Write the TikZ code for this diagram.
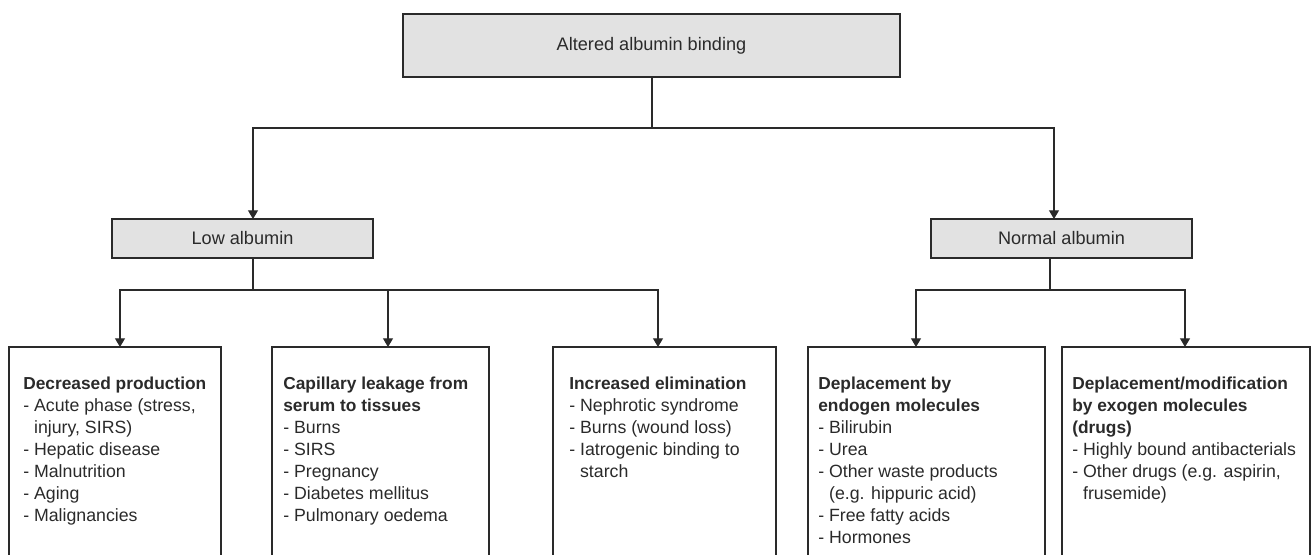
\documentclass[tikz,border=0pt]{standalone}
\usepackage{fontspec}
\setmainfont{Liberation Sans}
\usetikzlibrary{arrows.meta}
\definecolor{boxgray}{HTML}{E2E2E2}
\definecolor{ink}{HTML}{2A2A2A}
\tikzset{
  gbox/.style={draw=ink, fill=boxgray, line width=0.8pt, inner sep=0pt, outer sep=0pt, anchor=north west, text=ink, font=\fontsize{13.6}{16}\selectfont},
  wbox/.style={draw=ink, line width=0.8pt, inner sep=0pt, outer sep=0pt, anchor=north west},
  txt/.style={inner sep=0pt, anchor=north west, align=left, text=ink, font=\fontsize{13.3}{16.5}\selectfont},
  conn/.style={draw=ink, line width=0.8pt},
  arr/.style={conn, -{Triangle[width=7.5pt,length=6.5pt]}},
}
\newcommand{\hd}[1]{{\fontsize{13}{16.5}\selectfont\bfseries #1}}
\newcommand{\ind}{\hphantom{-~}}
\begin{document}
\begin{tikzpicture}[x=0.75pt,y=-0.75pt]
\useasboundingbox (0,0) rectangle (1311,555);
\clip (0,0) rectangle (1311,555);
% grey boxes
\node[gbox, minimum width=372.75pt, minimum height=47.25pt] (top) at (403,14) {Altered albumin binding};
\node[gbox, minimum width=195.75pt, minimum height=29.25pt] (low) at (112,219) {Low albumin};
\node[gbox, minimum width=195.75pt, minimum height=29.25pt] (norm) at (931,219) {Normal albumin};
% white boxes
\node[wbox, minimum width=159pt, minimum height=170pt] (b1) at (9,347) {};
\node[wbox, minimum width=162.75pt, minimum height=170pt] (b2) at (272,347) {};
\node[wbox, minimum width=167.25pt, minimum height=170pt] (b3) at (553,347) {};
\node[wbox, minimum width=177.75pt, minimum height=170pt] (b4) at (808,347) {};
\node[wbox, minimum width=186pt, minimum height=170pt] (b5) at (1062,347) {};
% texts
\node[txt] (t1) at (23,377) {\hd{Decreased production}\\- Acute phase (stress,\\\ind injury, SIRS)\\- Hepatic disease\\- Malnutrition\\- Aging\\- Malignancies};
\node[txt] (t2) at (283,377) {\hd{Capillary leakage from}\\\hd{serum to tissues}\\- Burns\\- SIRS\\- Pregnancy\\- Diabetes mellitus\\- Pulmonary oedema};
\node[txt] (t3) at (569,377) {\hd{Increased elimination}\\- Nephrotic syndrome\\- Burns (wound loss)\\- Iatrogenic binding to\\\ind starch};
\node[txt] (t4) at (818,377) {\hd{Deplacement by}\\\hd{endogen molecules}\\- Bilirubin\\- Urea\\- Other waste products\\\ind (e.g. hippuric acid)\\- Free fatty acids\\- Hormones};
\node[txt] (t5) at (1072,377) {\hd{Deplacement/modification}\\\hd{by exogen molecules}\\\hd{(drugs)}\\- Highly bound antibacterials\\- Other drugs (e.g. aspirin,\\\ind frusemide)};
% fork coordinates
\coordinate (f0) at (652,128);
\coordinate (fL) at (253,290);
\coordinate (fR) at (1050,290);
% top level
\draw[conn] (top.south -| f0) -- (f0);
\draw[arr] (f0) -| (low.north -| 253,0);
\draw[arr] (f0) -| (norm.north -| 1054,0);
% low albumin branch
\draw[conn] (low.south -| fL) -- (fL);
\draw[arr] (fL) -| (b1.north -| 120,0);
\draw[arr] (fL) -| (b2.north -| 388,0);
\draw[arr] (fL) -| (b3.north -| 658,0);
% normal albumin branch
\draw[conn] (norm.south -| fR) -- (fR);
\draw[arr] (fR) -| (b4.north -| 916,0);
\draw[arr] (fR) -| (b5.north -| 1185,0);
\end{tikzpicture}
\end{document}
